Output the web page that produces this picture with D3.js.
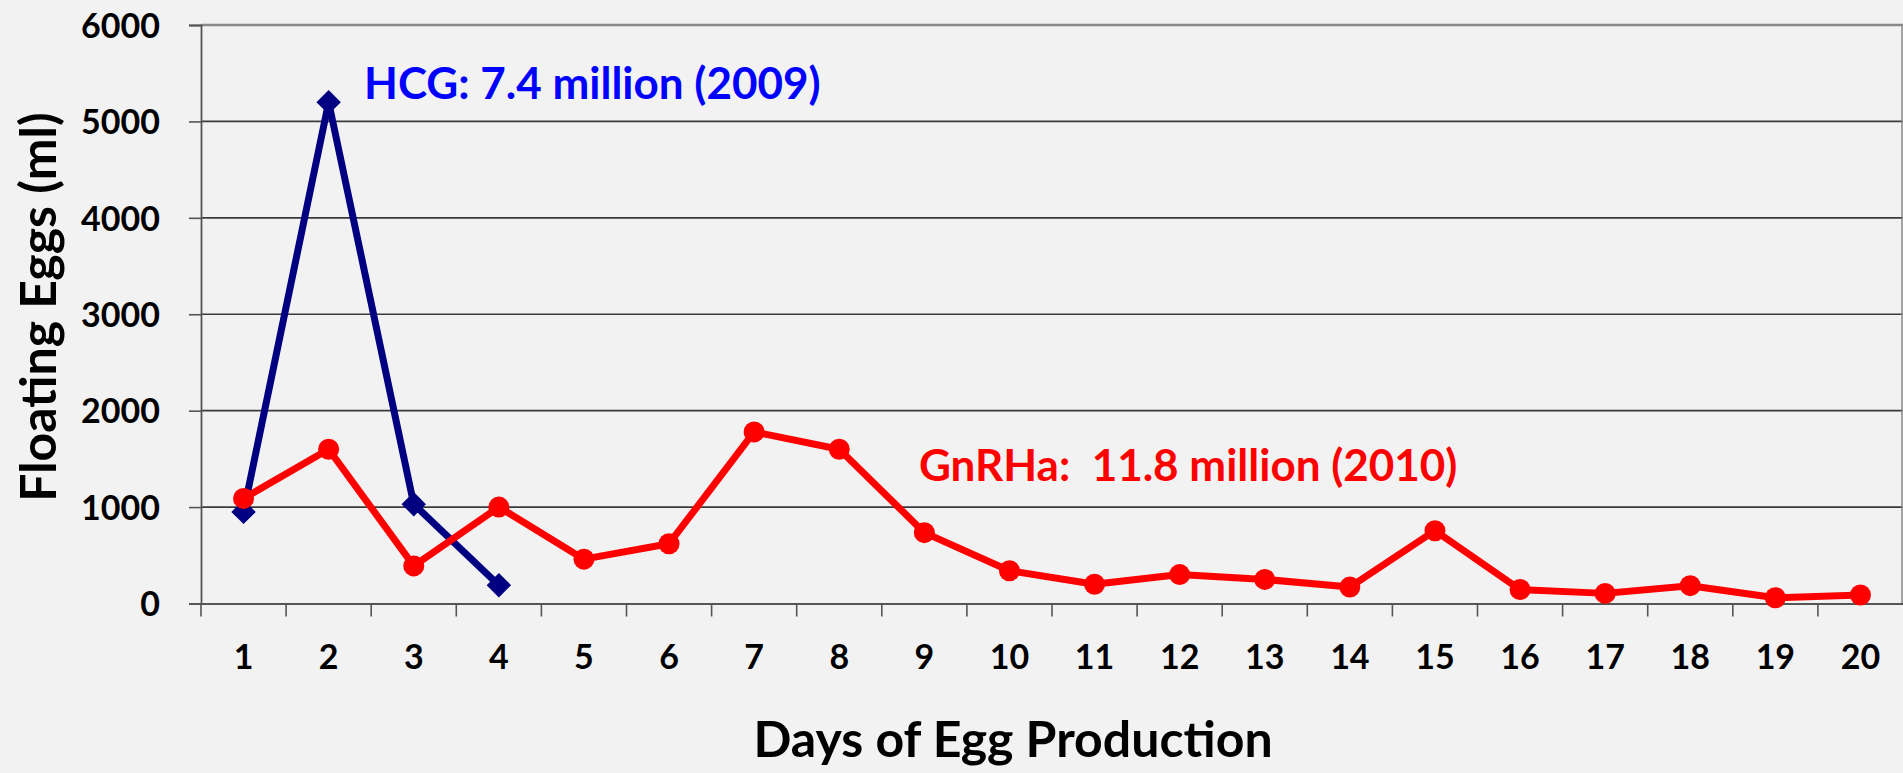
<!DOCTYPE html>
<html>
<head>
<meta charset="utf-8">
<script src="https://cdn.jsdelivr.net/npm/d3@7"></script>
<style>
  html, body { margin: 0; padding: 0; background: #F2F2F2; }
  svg { display: block; }
  text { font-family: Lato, "Open Sans", sans-serif; font-weight: bold; }
</style>
</head>
<body>
<svg id="chart" width="1903" height="773"></svg>
<script>
const days = [1,2,3,4,5,6,7,8,9,10,11,12,13,14,15,16,17,18,19,20];
const hcgDays = [1,2,3,4];
const hcgValues = [950, 5200, 1030, 190];
const gnrhaValues = [1090, 1600, 390, 1000, 460, 620, 1780, 1600, 735, 340, 200, 300, 250, 170, 755, 145, 105, 185, 60, 88];
const yTicks = [0, 1000, 2000, 3000, 4000, 5000, 6000];
const hcgLabel = "HCG: 7.4 million (2009)";
const gnrhaLabel = "GnRHa:  11.8 million (2010)";
const yTitle = "Floating Eggs (ml)";
const xTitle = "Days of Egg Production";

(function () {
const svg = d3.select("#chart");
const pLeft = 201, pRight = 1903, pTop = 25, pBottom = 603.5;

const x = d3.scaleBand().domain(days).range([pLeft, pRight]).padding(0);
const y = d3.scaleLinear().domain([0, 6000]).range([pBottom, pTop]);
const cx = d => x(d) + x.bandwidth() / 2;

svg.append("rect").attr("x", 0).attr("y", 0).attr("width", 1903).attr("height", 773).attr("fill", "#F2F2F2");

// gridlines
svg.append("g").selectAll("line").data(yTicks.filter(t => t > 0 && t < 6000)).join("line")
  .attr("x1", pLeft).attr("x2", pRight).attr("y1", d => y(d)).attr("y2", d => y(d))
  .attr("stroke", "#3a3a3a").attr("stroke-width", 1.6);
svg.append("line").attr("x1", pLeft).attr("x2", pRight).attr("y1", y(6000)).attr("y2", y(6000))
  .attr("stroke", "#8a8a8a").attr("stroke-width", 2.5);
svg.append("line").attr("x1", 1902).attr("x2", 1902).attr("y1", y(6000)).attr("y2", pBottom)
  .attr("stroke", "#8a8a8a").attr("stroke-width", 1.5);

// y axis
const yAxis = svg.append("g").attr("transform", `translate(${pLeft},0)`)
  .call(d3.axisLeft(y).tickValues(yTicks).tickSize(12).tickPadding(29).tickFormat(d3.format("d")));
yAxis.select(".domain").attr("stroke", "#555").attr("stroke-width", 1.8);
yAxis.selectAll(".tick line").attr("stroke", "#555").attr("stroke-width", 1.6);
yAxis.selectAll(".tick text").attr("font-size", 34).attr("fill", "#000")
  .attr("font-family", "Lato, sans-serif").attr("font-weight", "bold").attr("dy", "0.36em");

// x axis
const xAxis = svg.append("g").attr("transform", `translate(0,${pBottom})`)
  .call(d3.axisBottom(x).tickSize(0).tickPadding(41));
xAxis.select(".domain").attr("stroke", "#555").attr("stroke-width", 1.8);
xAxis.selectAll(".tick text").attr("font-size", 34).attr("fill", "#000")
  .attr("font-family", "Lato, sans-serif").attr("font-weight", "bold");
svg.append("g").selectAll("line").data(days).join("line")
  .attr("x1", d => x(d)).attr("x2", d => x(d))
  .attr("y1", pBottom).attr("y2", pBottom + 13)
  .attr("stroke", "#555").attr("stroke-width", 1.6);

// HCG line
const lineHcg = d3.line().x((d, i) => cx(hcgDays[i])).y(d => y(d));
svg.append("path").datum(hcgValues).attr("d", lineHcg)
  .attr("fill", "none").attr("stroke", "#000080").attr("stroke-width", 7).attr("stroke-linejoin", "round");
svg.append("g").selectAll("path").data(hcgValues).join("path")
  .attr("d", d3.symbol().type(d3.symbolDiamond2).size(380))
  .attr("transform", (d, i) => `translate(${cx(hcgDays[i])},${y(d)})`)
  .attr("fill", "#000080");

// GnRHa line
const lineG = d3.line().x((d, i) => cx(days[i])).y(d => y(d));
svg.append("path").datum(gnrhaValues).attr("d", lineG)
  .attr("fill", "none").attr("stroke", "#FF0000").attr("stroke-width", 7).attr("stroke-linejoin", "round");
svg.append("g").selectAll("circle").data(gnrhaValues).join("circle")
  .attr("cx", (d, i) => cx(days[i])).attr("cy", d => y(d)).attr("r", 10.5)
  .attr("fill", "#FF0000");

// annotations
svg.append("text").attr("x", 364).attr("y", 99).attr("font-size", 44).attr("fill", "#0000FF")
  .text(hcgLabel);
svg.append("text").attr("x", 919).attr("y", 481).attr("font-size", 44).attr("fill", "#FF0000")
  .style("white-space", "pre").text(gnrhaLabel);

// axis titles
svg.append("text").attr("transform", "translate(56,307) rotate(-90)").attr("text-anchor", "middle")
  .attr("font-size", 50).attr("fill", "#000").text(yTitle);
svg.append("text").attr("x", 1013).attr("y", 757).attr("text-anchor", "middle")
  .attr("font-size", 50).attr("fill", "#000").text(xTitle);
})();
</script>
</body>
</html>
